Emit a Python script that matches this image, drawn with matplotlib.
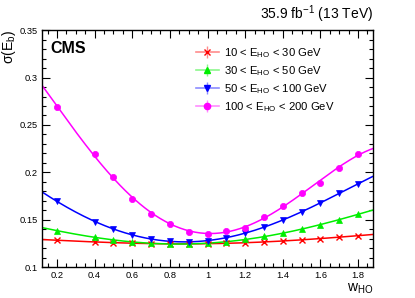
import matplotlib
matplotlib.use("Agg")
import matplotlib.pyplot as plt
import numpy as np
from matplotlib.lines import Line2D
from matplotlib.legend_handler import HandlerTuple
from matplotlib.ticker import MultipleLocator, FormatStrFormatter

plt.rcParams["font.family"] = ["Liberation Sans", "DejaVu Sans"]
plt.rcParams["mathtext.fontset"] = "custom"
plt.rcParams["mathtext.rm"] = "Liberation Sans"
plt.rcParams["mathtext.it"] = "Liberation Sans:italic"
plt.rcParams["mathtext.bf"] = "Liberation Sans:bold"
plt.rcParams["mathtext.default"] = "regular"

# data
w_ho = [0.2, 0.4, 0.5, 0.6, 0.7, 0.8, 0.9, 1.0, 1.1, 1.2, 1.3, 1.4, 1.5, 1.6, 1.7, 1.8]
sig_10_30 = [0.1285, 0.1267, 0.1260, 0.1256, 0.1250, 0.1245, 0.1245, 0.1250,
             0.1255, 0.1258, 0.1267, 0.1280, 0.1288, 0.1300, 0.1320, 0.1333]
sig_30_50 = [0.1386, 0.1316, 0.1288, 0.1270, 0.1256, 0.1243, 0.1243, 0.1253,
             0.1270, 0.1295, 0.1327, 0.1360, 0.1400, 0.1450, 0.1500, 0.1560]
sig_50_100 = [0.1696, 0.1480, 0.1404, 0.1344, 0.1300, 0.1277, 0.1267, 0.1280,
              0.1306, 0.1362, 0.1425, 0.1500, 0.1587, 0.1675, 0.1780, 0.1880]
sig_100_200 = [0.2690, 0.2190, 0.1956, 0.1717, 0.1566, 0.1460, 0.1376, 0.1355,
               0.1386, 0.1418, 0.1530, 0.1650, 0.1780, 0.1890, 0.2050, 0.2195]
labels = ["10 < $E_{HO}$ < 30 GeV", "30 < $E_{HO}$ < 50 GeV",
          "50 < $E_{HO}$ < 100 GeV", "100 < $E_{HO}$ < 200 GeV"]

series = [sig_10_30, sig_30_50, sig_50_100, sig_100_200]
colors = ["#ff0000", "#00ee00", "#0000ff", "#ff00ff"]
markers = ["x", "^", "v", "o"]
msizes = [5, 4.5, 4.5, 4.5]

fig = plt.figure(figsize=(4.15, 2.98), dpi=100)
ax = fig.add_axes([0.101, 0.103, 0.798, 0.796])

# fit curves: 4th order polynomial in w
xfine = np.linspace(0.12, 1.88, 200)
handles = []
for y, c, m, ms in zip(series, colors, markers, msizes):
    coef = np.polyfit(w_ho, y, 4)
    ax.plot(xfine, np.polyval(coef, xfine), color=c, lw=1.1, zorder=2)
    ax.plot(w_ho, y, ls="none", marker=m, color=c, ms=ms, mew=1 if m == "x" else 0.5, zorder=3)
    h = (Line2D([], [], color=c, alpha=0.45, lw=1.2),
         Line2D([], [], color=c, alpha=0.45, marker="|", ms=9, ls="none"),
         Line2D([], [], color=c, marker=m, ms=ms, ls="none"))
    handles.append(h)

ax.set_xlim(0.12, 1.88)
ax.set_ylim(0.1, 0.35)
ax.xaxis.set_major_locator(MultipleLocator(0.2))
ax.xaxis.set_minor_locator(MultipleLocator(0.05))
ax.yaxis.set_major_locator(MultipleLocator(0.05))
ax.yaxis.set_minor_locator(MultipleLocator(0.01))
ax.xaxis.set_major_formatter(FormatStrFormatter("%g"))
ax.yaxis.set_major_formatter(FormatStrFormatter("%g"))
ax.tick_params(which="both", direction="in", top=True, right=True, labelsize=6.7, width=0.8)
ax.tick_params(which="major", length=6, pad=3)
ax.tick_params(which="minor", length=3)
for s in ax.spines.values():
    s.set_linewidth(1.0)

ax.set_xlabel("$w_{HO}$", loc="right", fontsize=10, labelpad=1)
ax.set_ylabel("σ($E_{b}$)", loc="top", fontsize=10, labelpad=1)

ax.text(0.025, 0.955, "CMS", transform=ax.transAxes, fontsize=11.5, fontweight="bold", va="top")
fig.text(0.899, 0.915, "35.9 fb$^{-1}$ (13 TeV)", ha="right", va="bottom", fontsize=10)

ax.legend(handles, labels, handler_map={tuple: HandlerTuple(ndivide=1)},
          loc="upper left", bbox_to_anchor=(0.435, 0.975), frameon=False,
          fontsize=8.1, handlelength=2.0, labelspacing=0.38, handletextpad=0.5)

fig.savefig("out.png", dpi=100)
